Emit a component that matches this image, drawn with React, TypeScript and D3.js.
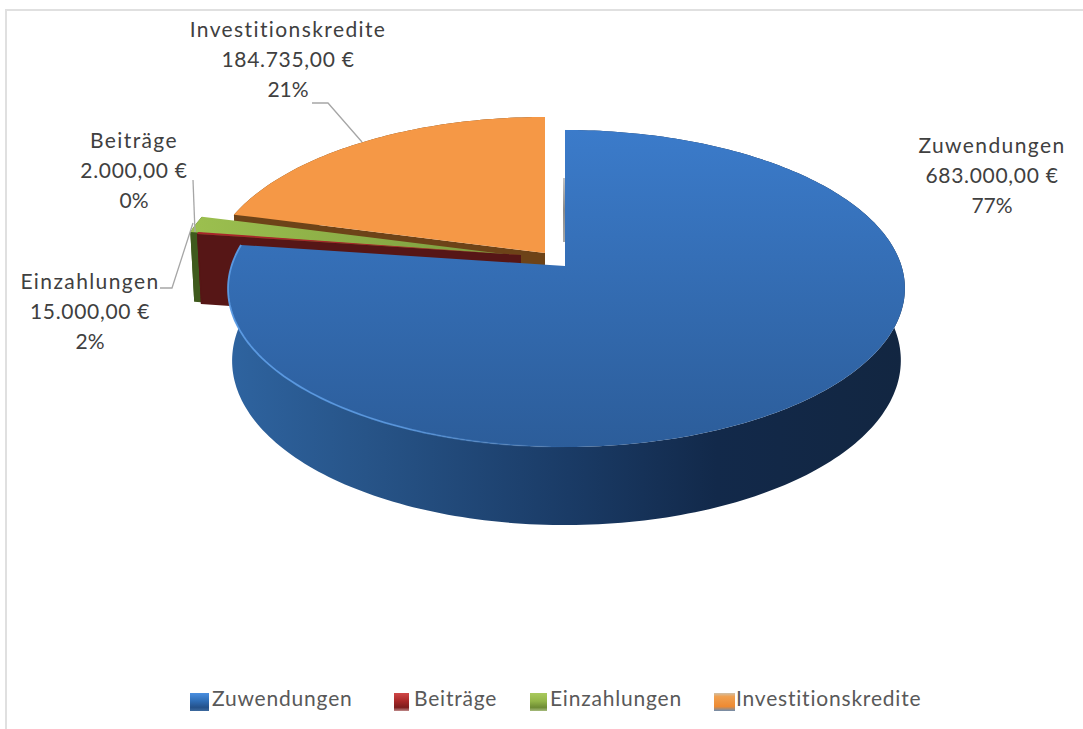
import React from "react";
import * as d3 from "d3";

const categories = ["Zuwendungen", "Beiträge", "Einzahlungen", "Investitionskredite"];
const values = [683000, 2000, 15000, 184735];
const amountLabels = ["683.000,00 €", "2.000,00 €", "15.000,00 €", "184.735,00 €"];
const percentLabels = ["77%", "0%", "2%", "21%"];
const offsets = [[565, 266], [521, 255], [513, 255], [545, 253]];
const topColors = ["url(#blueTop)", "#a8262a", "url(#greenTop)", "#f59846"];
const radialWall = ["#1c3e6a", "#561616", "#3f5a1d", "#6d4318"];
const outerWall = ["url(#blueWall)", "#561616", "#3f5a1d", "#6d4318"];
const labelPos = [[992, 153], [134, 148], [90, 289], [288, 37]];
const legendX = [212, 414, 550, 736];
const swatchX = [[190, 19], [394, 15], [530, 17], [714, 21]];
const swatchFill = ["url(#sw0)", "url(#sw1)", "url(#sw2)", "url(#sw3)"];

const K = 335, kY = 155.3, persp = 0.142, depth = 71;

function project(a: number, r: number, z: number, o: number[]) {
  const u = Math.sin(a) * r, v = Math.cos(a) * r;
  const d = 1 + persp * v;
  const s = 1 - 0.012 * z;
  return [o[0] + 1.5 * u * u + (K * s * u) / d, o[1] - (kY * s * v) / d + z * depth * (1 - 0.13 * v)];
}

function sample(a0: number, a1: number) {
  const n = Math.max(2, Math.ceil(Math.abs(a1 - a0) / 0.02));
  return d3.range(n + 1).map((i) => a0 + ((a1 - a0) * i) / n);
}

const line = d3.line();

const swatchStops = [
  [["0", "#4a8fe0"], ["0.45", "#2f6db5"], ["0.8", "#24518a"], ["1", "#3d6a9e"]],
  [["0", "#d04848"], ["0.45", "#a82828"], ["0.8", "#7d1d1d"], ["1", "#c08a8a"]],
  [["0", "#a9c95e"], ["0.45", "#93b548"], ["0.8", "#6e8c34"], ["1", "#a6bb7d"]],
  [["0", "#d0c0a8"], ["0.2", "#f0a050"], ["0.75", "#ee8a32"], ["1", "#6d8db0"]],
];

export default function App() {
  const arcs = d3.pie<number>().sort(null)(values);
  const order = [3, 2, 1, 0];
  return (
    <svg width={1083} height={729} style={{ position: "absolute", left: 0, top: 0, background: "#fff" }}>
      <defs>
        <linearGradient id="blueTop" x1="0" x2="0" y1="0" y2="1">
          <stop offset="0" stopColor="#3b7bca" />
          <stop offset="1" stopColor="#2c5d9a" />
        </linearGradient>
        <linearGradient id="greenTop" x1="0" x2="1" y1="0" y2="0">
          <stop offset="0" stopColor="#9cc04f" />
          <stop offset="1" stopColor="#7c9c3e" />
        </linearGradient>
        <linearGradient id="blueWall" gradientUnits="userSpaceOnUse" x1="232" x2="905" y1="0" y2="0">
          <stop offset="0" stopColor="#2e639f" />
          <stop offset="0.2" stopColor="#275488" />
          <stop offset="0.5" stopColor="#1a3b66" />
          <stop offset="0.72" stopColor="#12294a" />
          <stop offset="1" stopColor="#122641" />
        </linearGradient>
        <linearGradient id="rimGlow" gradientUnits="userSpaceOnUse" x1="232" x2="905" y1="0" y2="0">
          <stop offset="0" stopColor="#5b9be4" stopOpacity="0.95" />
          <stop offset="0.25" stopColor="#5b9be4" stopOpacity="0.8" />
          <stop offset="0.5" stopColor="#5b9be4" stopOpacity="0" />
          <stop offset="1" stopColor="#5b9be4" stopOpacity="0" />
        </linearGradient>
        <linearGradient id="sliver" x1="0" x2="0" y1="0" y2="1">
          <stop offset="0" stopColor="#c4c4c4" />
          <stop offset="0.5" stopColor="#8a8a8a" />
          <stop offset="1" stopColor="#a8a8a8" />
        </linearGradient>
        {swatchStops.map((st, i) => (
          <linearGradient key={i} id={"sw" + i} x1="0" x2="0" y1="0" y2="1">
            {st.map(([o, c]) => <stop key={o} offset={o} stopColor={c} />)}
          </linearGradient>
        ))}
      </defs>
      <rect x={6} y={10} width={1090} height={740} fill="#fff" stroke="#e0e0e0" strokeWidth={2} />
      <rect x={563} y={178} width={2} height={64} fill="url(#sliver)" />

      {order.map((i) => {
        const s = arcs[i];
        const o = offsets[i];
        const A = s.startAngle, B = s.endAngle;
        const rim = sample(A, B).map((a) => project(a, 1, 0, o));
        const rimLow = sample(B, A).map((a) => project(a, 1, 1, o));
        const top = [o, ...rim];
        const wallOuter = [...rim, ...rimLow];
        const radial = [o, project(A, 1, 0, o), project(A, 1, 1, o), [o[0], o[1] + depth]];
        return (
          <g key={categories[i]}>
            {i !== 0 && <path d={line(radial as any)! + "Z"} fill={radialWall[i]} />}
            <path d={line(wallOuter as any)! + "Z"} fill={outerWall[i]} />
            <path d={line(top as any)! + "Z"} fill={topColors[i]} />
            {i === 0 && <path d={line(rim as any)!} fill="none" stroke="url(#rimGlow)" strokeWidth={1.8} />}
          </g>
        );
      })}

      <polyline points="362,142 328,103 312,103" fill="none" stroke="#a6a6a6" strokeWidth={1.3} />
      <polyline points="193,180 195,232" fill="none" stroke="#a6a6a6" strokeWidth={1.3} />
      <polyline points="193,223 172,288 160,288" fill="none" stroke="#a6a6a6" strokeWidth={1.3} />

      {categories.map((c, i) => (
        <text key={c} x={labelPos[i][0]} y={labelPos[i][1]} textAnchor="middle" fontFamily="Lato" fontSize={21} fill="#404040">
          <tspan x={labelPos[i][0]} letterSpacing={1.4}>{c}</tspan>
          <tspan x={labelPos[i][0]} dy={30} letterSpacing={0.7}>{amountLabels[i]}</tspan>
          <tspan x={labelPos[i][0]} dy={30}>{percentLabels[i]}</tspan>
        </text>
      ))}

      {categories.map((c, i) => (
        <g key={"l" + c}>
          <rect x={swatchX[i][0]} y={693} width={swatchX[i][1]} height={18} fill={swatchFill[i]} />
          <text x={legendX[i]} y={706} fontFamily="Lato" fontSize={21} fill="#595959" letterSpacing={0.8}>{c}</text>
        </g>
      ))}
    </svg>
  );
}
